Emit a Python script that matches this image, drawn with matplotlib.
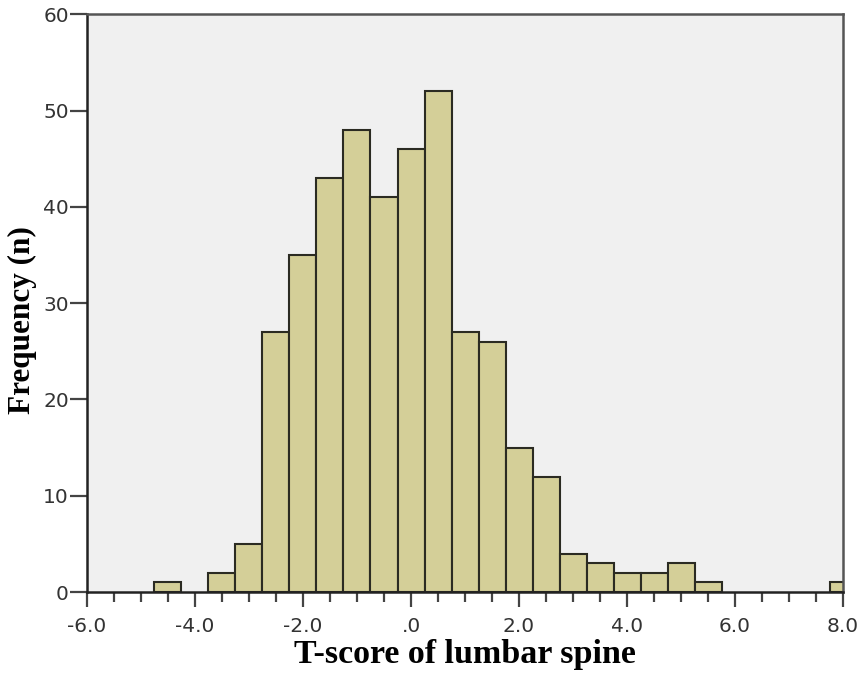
import numpy as np
import matplotlib.pyplot as plt

# bin centres (width 0.5) and counts
bin_centers = [-4.5, -4.0, -3.5, -3.0, -2.5, -2.0, -1.5, -1.0, -0.5, 0.0, 0.5,
               1.0, 1.5, 2.0, 2.5, 3.0, 3.5, 4.0, 4.5, 5.0, 5.5,
               6.0, 6.5, 7.0, 7.5, 8.0]
counts = [1, 0, 2, 5, 27, 35, 43, 48, 41, 46, 52,
          27, 26, 15, 12, 4, 3, 2, 2, 3, 1,
          0, 0, 0, 0, 1]
bin_width = 0.5

x_ticks = [-6, -4, -2, 0, 2, 4, 6, 8]
x_ticklabels = ['-6.0', '-4.0', '-2.0', '.0', '2.0', '4.0', '6.0', '8.0']
y_ticks = [0, 10, 20, 30, 40, 50, 60]

fig = plt.figure(figsize=(8.62, 6.79), dpi=100)
ax = fig.add_axes([0.1009, 0.128, 0.8771, 0.851])
ax.set_facecolor('#f0f0f0')

centers = np.array(bin_centers)
heights = np.array(counts)
mask = heights > 0
ax.bar(centers[mask], heights[mask], width=bin_width, color='#d4cf98',
       edgecolor='#2b2b22', linewidth=1.5, zorder=2)

ax.set_xlim(-6, 8)
ax.set_ylim(0, 60)

ax.set_xticks(x_ticks)
ax.set_xticklabels(x_ticklabels)
ax.set_xticks(np.arange(-6, 8.01, 0.5), minor=True)
ax.set_yticks(y_ticks)

ax.tick_params(axis='x', which='major', direction='out', length=11, width=1.6,
               color='#444444', labelsize=14.5, labelcolor='#333333', pad=7)
ax.tick_params(axis='x', which='minor', direction='out', length=7.5, width=1.6,
               color='#444444')
ax.tick_params(axis='y', direction='out', length=12, width=1.6,
               color='#444444', labelsize=14.5, labelcolor='#333333', pad=1)

for side in ['left', 'bottom']:
    ax.spines[side].set_color('#222222')
    ax.spines[side].set_linewidth(1.8)
for side in ['top', 'right']:
    ax.spines[side].set_color('#555555')
    ax.spines[side].set_linewidth(1.8)

ax.set_xlabel('T-score of lumbar spine', family='Liberation Serif',
              fontweight='bold', fontsize=24.5, labelpad=2)
ax.set_ylabel('Frequency (n)', family='Liberation Serif',
              fontweight='bold', fontsize=22.5)
ax.yaxis.set_label_coords(-0.066, 0.47)

fig.savefig('out.png', dpi=100)
